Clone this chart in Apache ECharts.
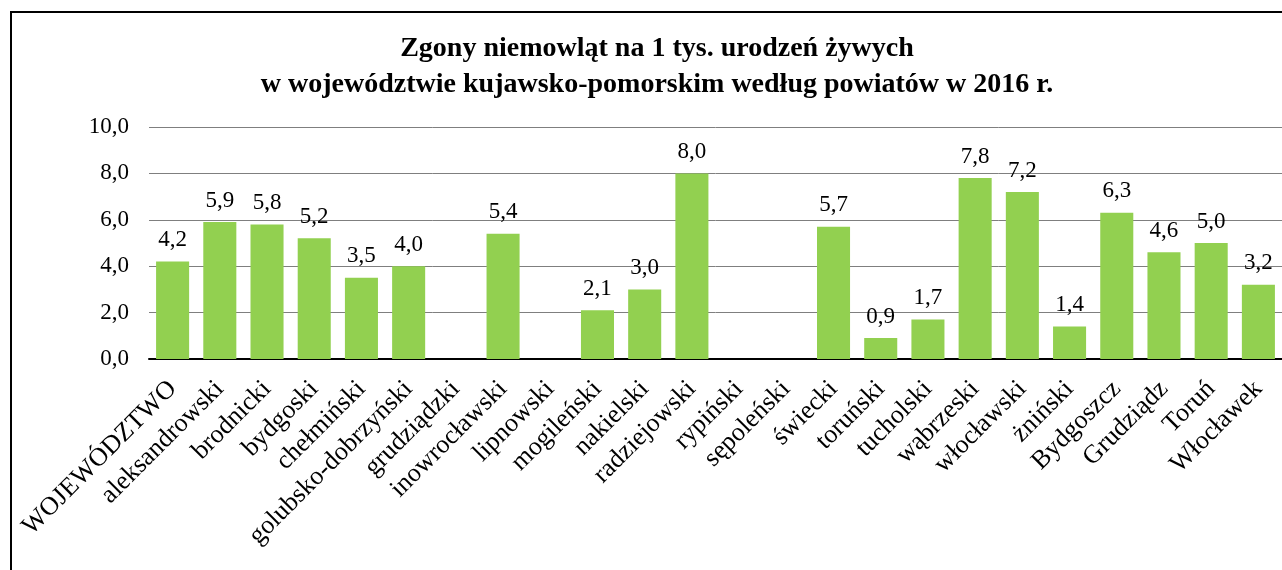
<!DOCTYPE html>
<html>
<head>
<meta charset="utf-8">
<script src="https://cdn.jsdelivr.net/npm/echarts@6/dist/echarts.min.js"></script>
<style>
  html, body { margin: 0; padding: 0; background: #fff; overflow: hidden; }
  #chart { width: 1282px; height: 570px; }
</style>
</head>
<body>
<div id="chart"></div>
<script>
// Powiaty i miasta na prawach powiatu
const categories = [
  'WOJEWÓDZTWO', 'aleksandrowski', 'brodnicki', 'bydgoski', 'chełmiński',
  'golubsko-dobrzyński', 'grudziądzki', 'inowrocławski', 'lipnowski', 'mogileński',
  'nakielski', 'radziejowski', 'rypiński', 'sępoleński', 'świecki', 'toruński',
  'tucholski', 'wąbrzeski', 'włocławski', 'żniński', 'Bydgoszcz', 'Grudziądz',
  'Toruń', 'Włocławek'
];

// zgony niemowląt na 1 tys. urodzeń żywych (brak słupka = brak danych)
const values = [
  4.2, 5.9, 5.8, 5.2, 3.5,
  4.0, null, 5.4, null, 2.1,
  3.0, 8.0, null, null, 5.7, 0.9,
  1.7, 7.8, 7.2, 1.4, 6.3, 4.6,
  5.0, 3.2
];

const titleLines = [
  'Zgony niemowląt na 1 tys. urodzeń żywych',
  'w województwie kujawsko-pomorskim według powiatów w 2016 r.'
];

const fmt = v => v.toFixed(1).replace('.', ',');
const serif = '"Liberation Serif", "Times New Roman", serif';

const chart = echarts.init(document.getElementById('chart'));
chart.setOption({
  animation: false,
  backgroundColor: '#fff',
  textStyle: { fontFamily: serif },
  title: {
    text: titleLines.join('\n'),
    left: 652,
    textAlign: 'center',
    top: 26,
    textStyle: {
      fontFamily: serif,
      fontSize: 28,
      fontWeight: 'bold',
      color: '#000',
      lineHeight: 36
    }
  },
  graphic: [{
    type: 'rect',
    shape: { x: 11, y: 12, width: 1300, height: 600 },
    style: { fill: 'none', stroke: '#000', lineWidth: 2 },
    silent: true
  }],
  grid: { left: 149, top: 127, width: 1135, height: 232 },
  xAxis: {
    type: 'category',
    data: categories,
    axisLine: { lineStyle: { color: '#000', width: 2 } },
    axisTick: { show: false },
    axisLabel: {
      interval: 0,
      rotate: 45,
      margin: 26,
      color: '#000',
      fontSize: 26,
      fontFamily: serif
    }
  },
  yAxis: {
    type: 'value',
    min: 0,
    max: 10,
    interval: 2,
    axisLine: { show: false },
    axisTick: { show: false },
    axisLabel: {
      formatter: fmt,
      color: '#000',
      fontSize: 23,
      fontFamily: serif,
      margin: 20
    },
    splitLine: { lineStyle: { color: '#7f7f7f', width: 1 } }
  },
  series: [{
    type: 'bar',
    data: values,
    barCategoryGap: '30%',
    itemStyle: { color: '#92D050' },
    label: {
      show: true,
      position: 'top',
      distance: 10,
      formatter: p => fmt(p.value),
      color: '#000',
      fontSize: 23,
      fontFamily: serif
    }
  }]
});
</script>
</body>
</html>
